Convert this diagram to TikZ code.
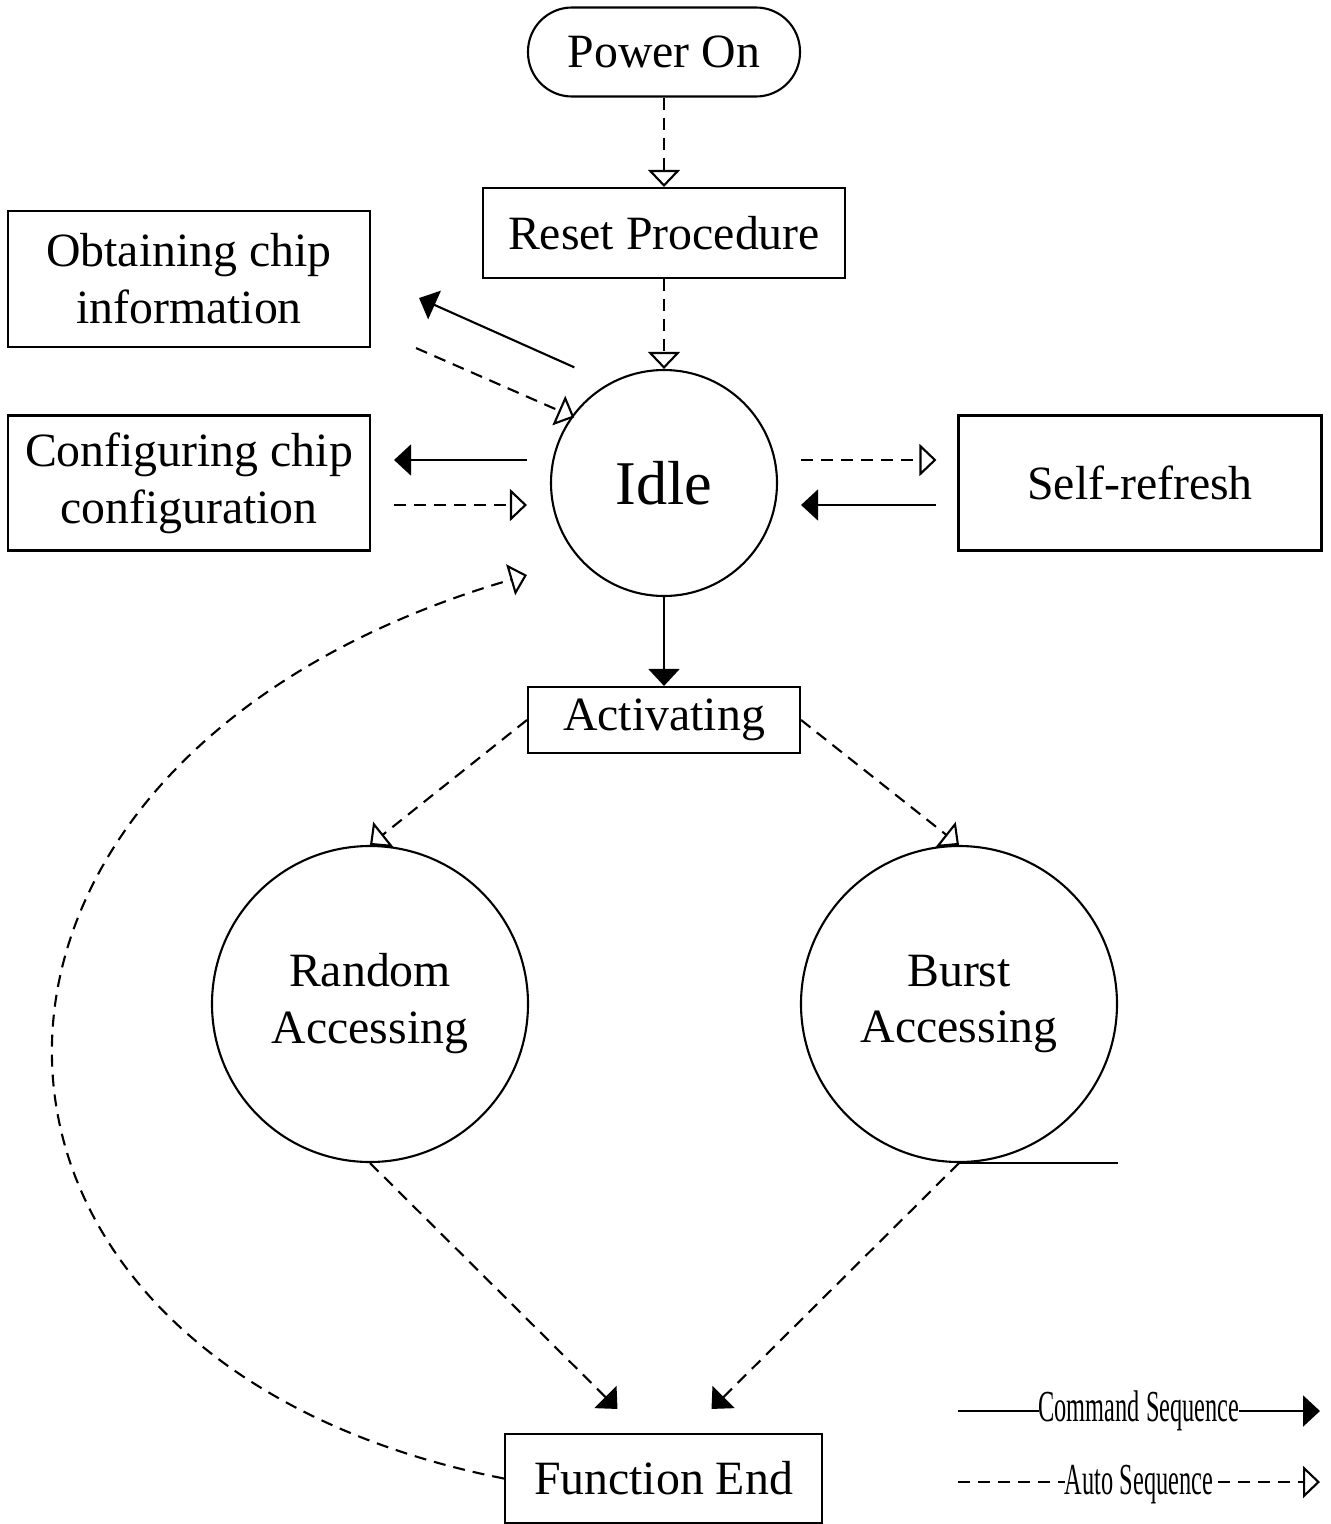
\documentclass[tikz,border=0pt]{standalone}
\usepackage{fontspec}
\setmainfont{Liberation Serif}
\usetikzlibrary{arrows.meta}
\usetikzlibrary{calc}

\tikzset{
  box/.style={draw, line width=0.6pt, align=center, inner sep=0pt,
    font=\fontsize{13.6}{16.2}\selectfont},
  state/.style={draw, circle, line width=0.6pt, align=center, inner sep=0pt,
    font=\fontsize{13.6}{16.2}\selectfont},
  cmdseq/.style={line width=0.6pt, -{Triangle[length=0.17cm, width=0.31cm]}},
  autoseq/.style={line width=0.6pt, dash pattern=on 0.12cm off 0.08cm,
    -{Triangle[open, length=0.17cm, width=0.32cm]}},
  legendtext/.style={fill=white, inner sep=0pt, xscale=0.55,
    font=\fontsize{12.6}{14}\selectfont}
}

\begin{document}
\begin{tikzpicture}
\useasboundingbox (0,0) rectangle (13.31,-15.24);

% states and procedures
\node[box, rounded corners=0.44cm, minimum width=2.72cm, minimum height=0.89cm] (power) at (6.64,-0.52) {Power On};
\node[box, minimum width=3.62cm, minimum height=0.90cm] (reset) at (6.64,-2.33) {Reset Procedure};
\node[box, minimum width=3.62cm, minimum height=1.36cm] (obtain) at (1.89,-2.79) {Obtaining chip\\information};
\node[box, minimum width=3.62cm, minimum height=1.35cm] (config) at (1.89,-4.83) {Configuring chip\\configuration};
\node[state, minimum size=2.26cm, font=\fontsize{17.7}{20}\selectfont] (idle) at (6.64,-4.83) {Idle};
\node[box, minimum width=3.63cm, minimum height=1.35cm] (selfref) at (11.40,-4.83) {Self-refresh};
\node[box, minimum width=2.72cm, minimum height=0.66cm] (activ) at (6.64,-7.20) {Activating};
\node[state, minimum size=3.16cm] (random) at (3.70,-10.04) {Random\\Accessing};
\node[state, minimum size=3.16cm] (burst) at (9.59,-10.04) {Burst\\Accessing};
\node[box, minimum width=3.17cm, minimum height=0.89cm] (fend) at (6.635,-14.785) {Function End};

% power up
\draw[autoseq] (power.south) -- (reset.north);
\draw[autoseq] (reset.south) -- (idle.north);

% idle and the side boxes
\draw[cmdseq] ([shift={(-0.09,0.35)}]idle.north west) -- ([shift={(0.48,0.50)}]obtain.south east);
\draw[autoseq] ([shift={(0.45,0)}]obtain.south east) -- ([shift={(-0.09,-0.15)}]idle.north west);
\draw[cmdseq] ([shift={(-0.23,0.23)}]idle.west) -- ([shift={(0.23,0.23)}]config.east);
\draw[autoseq] ([shift={(0.23,-0.22)}]config.east) -- ([shift={(-0.23,-0.22)}]idle.west);
\draw[autoseq] ([shift={(0.23,0.23)}]idle.east) -- ([shift={(-0.21,0.23)}]selfref.west);
\draw[cmdseq] ([shift={(-0.21,-0.22)}]selfref.west) -- ([shift={(0.23,-0.22)}]idle.east);

% accessing
\draw[cmdseq] (idle.south) -- (activ.north);
\draw[autoseq] (activ.west) -- (random.north);
\draw[autoseq] (activ.east) -- (burst.north);
\draw[line width=0.6pt] (burst.south) -- (burst.south -| burst.east);
\draw[cmdseq, dash pattern=on 0.12cm off 0.08cm] (random.south) -- ([shift={(-0.46,0.24)}]fend.north);
\draw[cmdseq, dash pattern=on 0.12cm off 0.08cm] (burst.south) -- ([shift={(0.48,0.24)}]fend.north);

% back to idle
\draw[autoseq] (fend.west) .. controls (-0.95,-13.6) and (-1.05,-7.6) .. ([shift={(-0.23,-0.92)}]idle.west);

% legend
\coordinate (cmdA) at (9.58,-14.11);
\coordinate (cmdB) at (13.20,-14.11);
\coordinate (autoA) at (9.58,-14.82);
\coordinate (autoB) at (13.20,-14.82);
\draw[cmdseq] (cmdA) -- (cmdB) node[midway, legendtext] {Command Sequence};
\draw[autoseq] (autoA) -- (autoB) node[midway, legendtext, yshift=-0.03cm] {Auto Sequence};
\end{tikzpicture}
\end{document}
